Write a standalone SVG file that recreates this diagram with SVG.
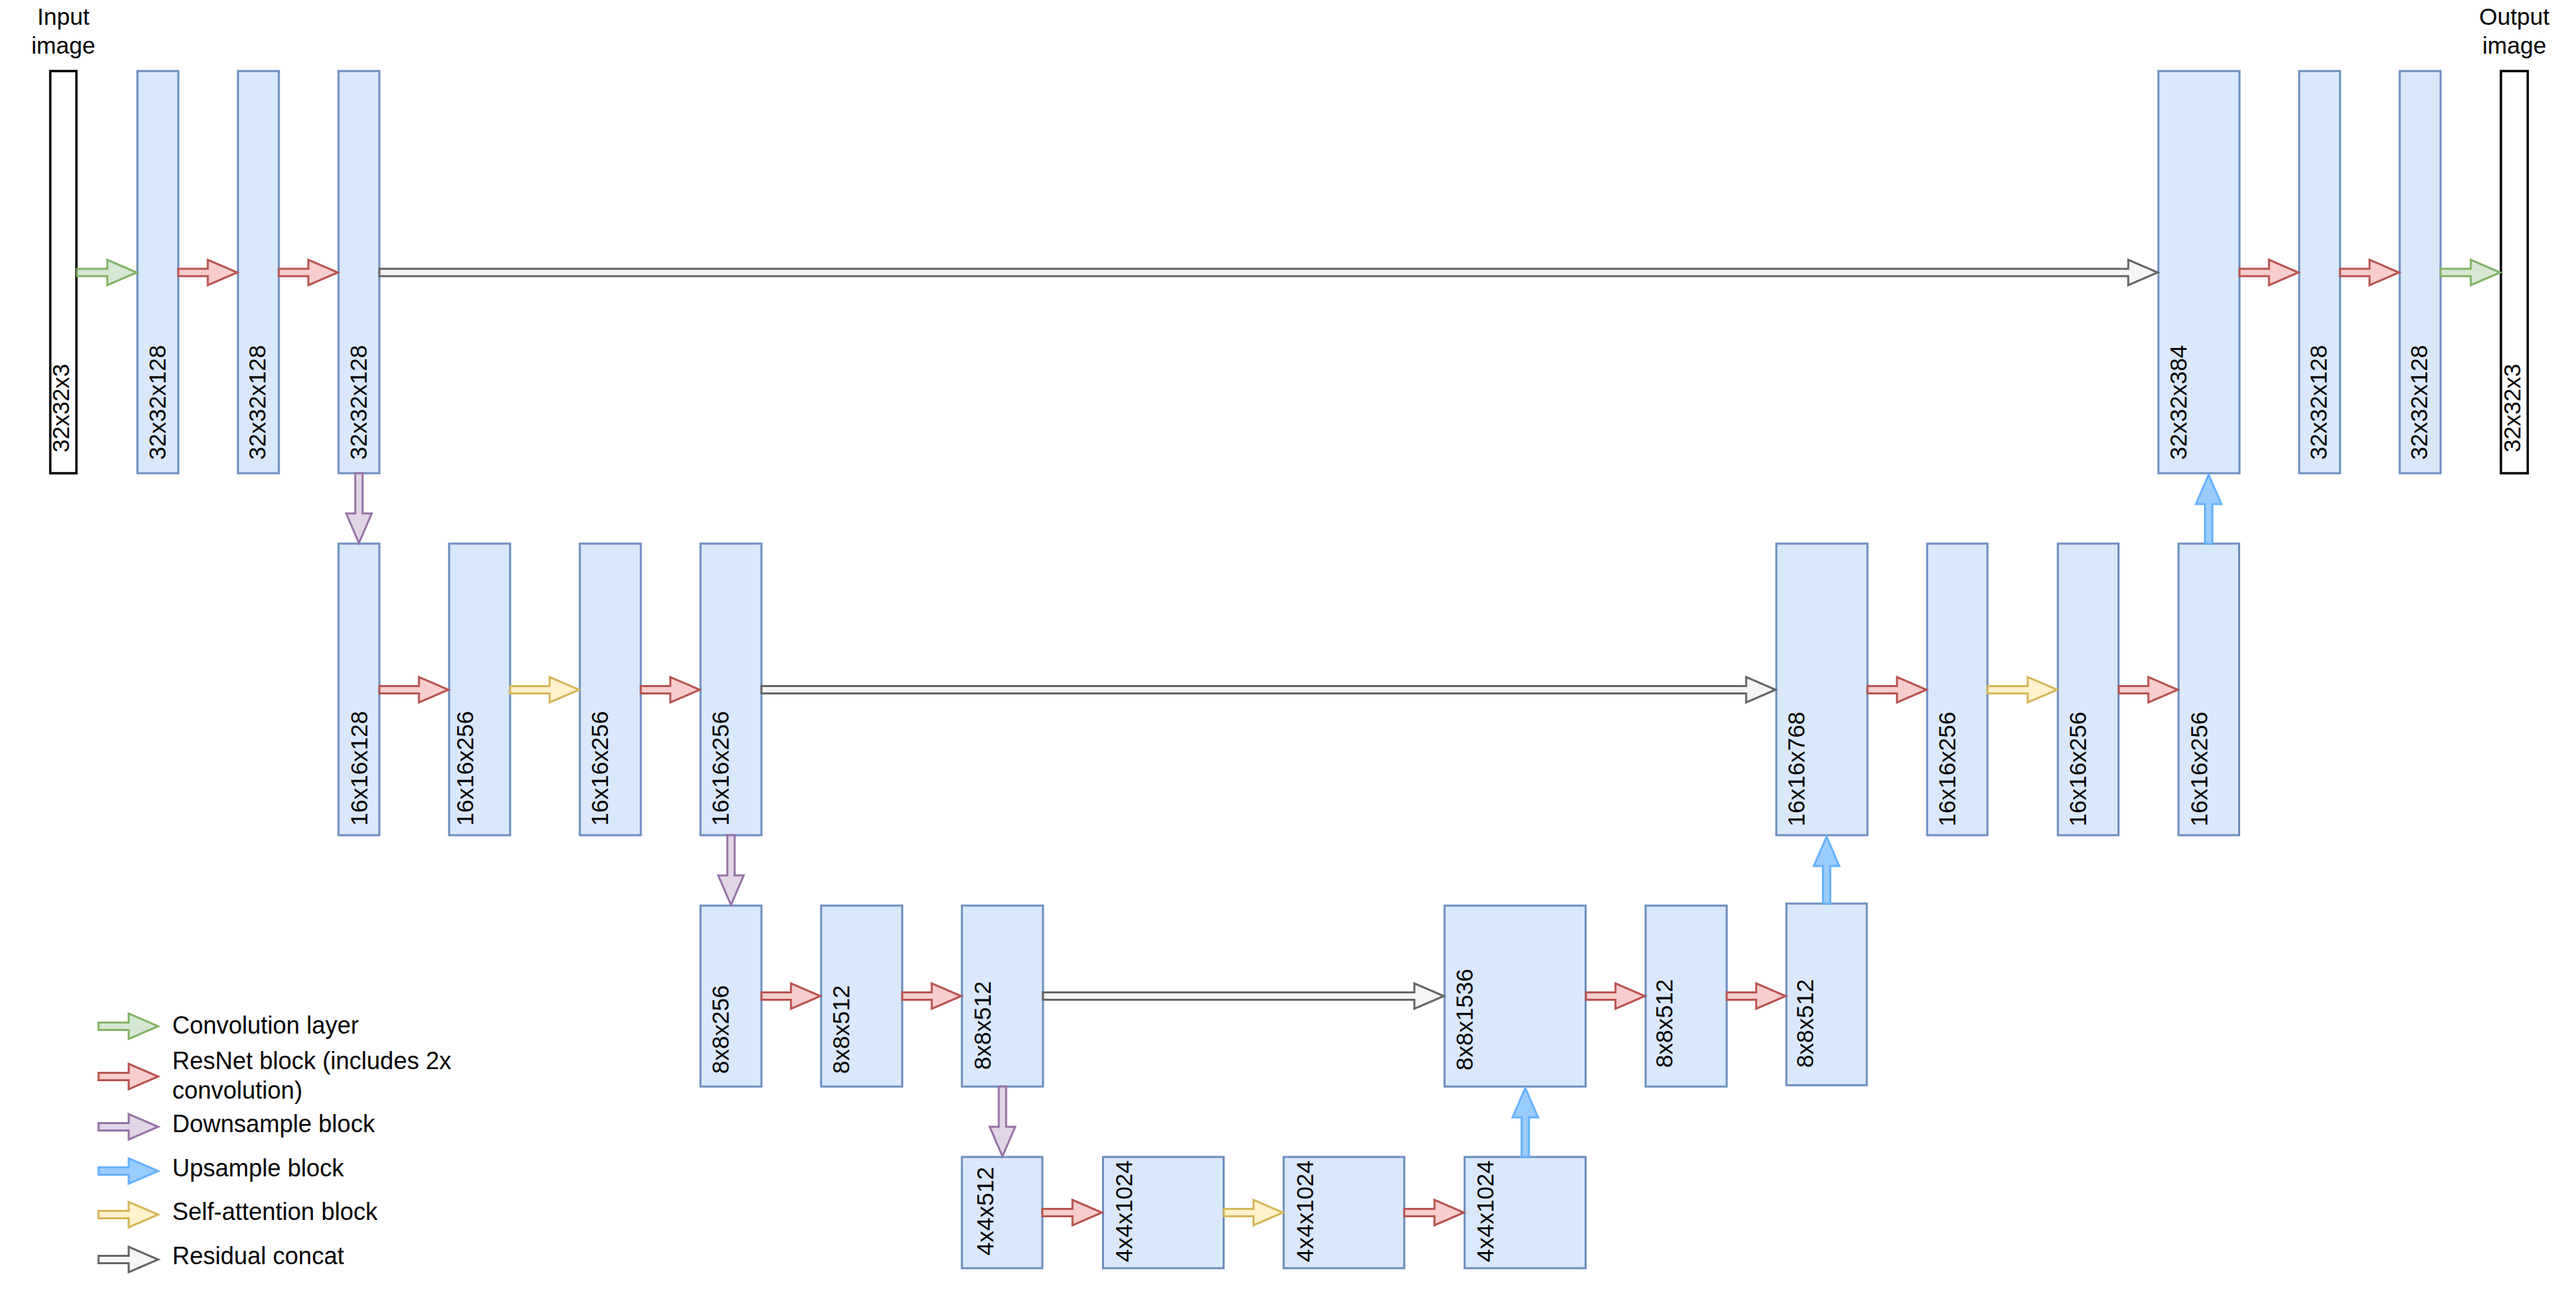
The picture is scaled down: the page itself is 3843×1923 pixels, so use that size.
<svg xmlns="http://www.w3.org/2000/svg" width="3843" height="1923" viewBox="0 0 3843 1923">
  <style>
    text { font-family: "Liberation Sans", Arial, Helvetica, sans-serif; font-size: 35px; fill: #000000; }
    .key { font-size: 36px; }
    .blk { fill: #dae8fc; stroke: #6c8ebf; stroke-width: 3; }
    .img { fill: #ffffff; stroke: #000000; stroke-width: 3.5; }
    .conv { fill: #d5e8d4; stroke: #82b366; stroke-width: 3; stroke-miterlimit: 10; }
    .res { fill: #f8cecc; stroke: #b85450; stroke-width: 3; stroke-miterlimit: 10; }
    .down { fill: #e1d5e7; stroke: #9673a6; stroke-width: 3; stroke-miterlimit: 10; }
    .up { fill: #99ccff; stroke: #66b2ff; stroke-width: 3; stroke-miterlimit: 10; }
    .attn { fill: #fff2cc; stroke: #d6b656; stroke-width: 3; stroke-miterlimit: 10; }
    .cat { fill: #f5f5f5; stroke: #666666; stroke-width: 3; stroke-miterlimit: 10; }
    .mid { text-anchor: middle; }
  </style>
  <rect width="3843" height="1923" fill="#ffffff"/>

  <!-- Encoder, 32x32 level -->
  <g id="input-image">
    <text class="mid" x="94.5" y="37">Input</text>
    <text class="mid" x="94.5" y="80">image</text>
    <rect class="img" x="75" y="106" width="39" height="600"/>
    <text transform="translate(103,675) rotate(-90)">32x32x3</text>
  </g>
  <g id="enc32-a">
    <rect class="blk" x="205" y="106" width="61" height="600"/>
    <text transform="translate(247,686) rotate(-90)">32x32x128</text>
  </g>
  <g id="enc32-b">
    <rect class="blk" x="355" y="106" width="61" height="600"/>
    <text transform="translate(396,686) rotate(-90)">32x32x128</text>
  </g>
  <g id="enc32-c">
    <rect class="blk" x="505" y="106" width="61" height="600"/>
    <text transform="translate(546.5,686) rotate(-90)">32x32x128</text>
  </g>

  <!-- Encoder, 16x16 level -->
  <g id="enc16-a">
    <rect class="blk" x="505" y="811" width="61" height="435"/>
    <text transform="translate(548,1232) rotate(-90)">16x16x128</text>
  </g>
  <g id="enc16-b">
    <rect class="blk" x="670" y="811" width="91" height="435"/>
    <text transform="translate(705.5,1232) rotate(-90)">16x16x256</text>
  </g>
  <g id="enc16-c">
    <rect class="blk" x="865" y="811" width="91" height="435"/>
    <text transform="translate(906.5,1232) rotate(-90)">16x16x256</text>
  </g>
  <g id="enc16-d">
    <rect class="blk" x="1045" y="811" width="91" height="435"/>
    <text transform="translate(1087,1232) rotate(-90)">16x16x256</text>
  </g>

  <!-- Encoder, 8x8 level -->
  <g id="enc8-a">
    <rect class="blk" x="1045" y="1351" width="91" height="270"/>
    <text transform="translate(1087,1602) rotate(-90)">8x8x256</text>
  </g>
  <g id="enc8-b">
    <rect class="blk" x="1225" y="1351" width="121" height="270"/>
    <text transform="translate(1267,1602) rotate(-90)">8x8x512</text>
  </g>
  <g id="enc8-c">
    <rect class="blk" x="1435" y="1351" width="121" height="270"/>
    <text transform="translate(1477.5,1596) rotate(-90)">8x8x512</text>
  </g>

  <!-- Bottleneck, 4x4 level -->
  <g id="mid4-a">
    <rect class="blk" x="1435" y="1726" width="120" height="166"/>
    <text transform="translate(1481.5,1873) rotate(-90)">4x4x512</text>
  </g>
  <g id="mid4-b">
    <rect class="blk" x="1645.5" y="1726" width="180" height="166"/>
    <text transform="translate(1688.5,1883) rotate(-90)">4x4x1024</text>
  </g>
  <g id="mid4-c">
    <rect class="blk" x="1915" y="1726" width="180" height="166"/>
    <text transform="translate(1959,1883) rotate(-90)">4x4x1024</text>
  </g>
  <g id="mid4-d">
    <rect class="blk" x="2185" y="1726" width="180.5" height="166"/>
    <text transform="translate(2228,1883) rotate(-90)">4x4x1024</text>
  </g>

  <!-- Decoder, 8x8 level -->
  <g id="dec8-a">
    <rect class="blk" x="2155" y="1351" width="210.5" height="270"/>
    <text transform="translate(2197,1597) rotate(-90)">8x8x1536</text>
  </g>
  <g id="dec8-b">
    <rect class="blk" x="2455" y="1351" width="121" height="270"/>
    <text transform="translate(2495,1593) rotate(-90)">8x8x512</text>
  </g>
  <g id="dec8-c">
    <rect class="blk" x="2665" y="1348" width="120" height="271"/>
    <text transform="translate(2705,1593) rotate(-90)">8x8x512</text>
  </g>

  <!-- Decoder, 16x16 level -->
  <g id="dec16-a">
    <rect class="blk" x="2650" y="811" width="136" height="435"/>
    <text transform="translate(2692,1233) rotate(-90)">16x16x768</text>
  </g>
  <g id="dec16-b">
    <rect class="blk" x="2875" y="811" width="90" height="435"/>
    <text transform="translate(2917,1233) rotate(-90)">16x16x256</text>
  </g>
  <g id="dec16-c">
    <rect class="blk" x="3070" y="811" width="90.5" height="435"/>
    <text transform="translate(3112,1233) rotate(-90)">16x16x256</text>
  </g>
  <g id="dec16-d">
    <rect class="blk" x="3250" y="811" width="90.5" height="435"/>
    <text transform="translate(3293,1233) rotate(-90)">16x16x256</text>
  </g>

  <!-- Decoder, 32x32 level -->
  <g id="dec32-a">
    <rect class="blk" x="3220" y="106" width="121" height="600"/>
    <text transform="translate(3262,686) rotate(-90)">32x32x384</text>
  </g>
  <g id="dec32-b">
    <rect class="blk" x="3430" y="106" width="61" height="600"/>
    <text transform="translate(3471,686) rotate(-90)">32x32x128</text>
  </g>
  <g id="dec32-c">
    <rect class="blk" x="3580" y="106" width="61" height="600"/>
    <text transform="translate(3621,686) rotate(-90)">32x32x128</text>
  </g>
  <g id="output-image">
    <text class="mid" x="3751" y="37">Output</text>
    <text class="mid" x="3751" y="80">image</text>
    <rect class="img" x="3731" y="106" width="40" height="600"/>
    <text transform="translate(3760,675) rotate(-90)">32x32x3</text>
  </g>

  <!-- Connectors: block arrows (shaft half-width 5.5, head half-width 19, head length 44) -->
  <g id="connectors">
    <!-- 32x32 row, y = 406.5 -->
    <polygon class="conv" points="115,401 160,401 160,387.5 204,406.5 160,425.5 160,412 115,412"/>
    <polygon class="res" points="266,401 310,401 310,387.5 354,406.5 310,425.5 310,412 266,412"/>
    <polygon class="res" points="416,401 460,401 460,387.5 504,406.5 460,425.5 460,412 416,412"/>
    <polygon class="cat" points="566,401 3175,401 3175,387.5 3219,406.5 3175,425.5 3175,412 566,412"/>
    <polygon class="res" points="3341,401 3385,401 3385,387.5 3429,406.5 3385,425.5 3385,412 3341,412"/>
    <polygon class="res" points="3491,401 3535,401 3535,387.5 3579,406.5 3535,425.5 3535,412 3491,412"/>
    <polygon class="conv" points="3641,401 3686,401 3686,387.5 3730,406.5 3686,425.5 3686,412 3641,412"/>

    <!-- 16x16 row, y = 1029 -->
    <polygon class="res" points="566,1023.5 625,1023.5 625,1010 669,1029 625,1048 625,1034.5 566,1034.5"/>
    <polygon class="attn" points="761,1023.5 820,1023.5 820,1010 864,1029 820,1048 820,1034.5 761,1034.5"/>
    <polygon class="res" points="956,1023.5 1000,1023.5 1000,1010 1044,1029 1000,1048 1000,1034.5 956,1034.5"/>
    <polygon class="cat" points="1136,1023.5 2605,1023.5 2605,1010 2649,1029 2605,1048 2605,1034.5 1136,1034.5"/>
    <polygon class="res" points="2786,1023.5 2830,1023.5 2830,1010 2874,1029 2830,1048 2830,1034.5 2786,1034.5"/>
    <polygon class="attn" points="2965,1023.5 3025,1023.5 3025,1010 3069,1029 3025,1048 3025,1034.5 2965,1034.5"/>
    <polygon class="res" points="3161,1023.5 3205,1023.5 3205,1010 3249,1029 3205,1048 3205,1034.5 3161,1034.5"/>

    <!-- 8x8 row, y = 1486 -->
    <polygon class="res" points="1136,1480.5 1180,1480.5 1180,1467 1224,1486 1180,1505 1180,1491.5 1136,1491.5"/>
    <polygon class="res" points="1346,1480.5 1390,1480.5 1390,1467 1434,1486 1390,1505 1390,1491.5 1346,1491.5"/>
    <polygon class="cat" points="1556,1480.5 2110,1480.5 2110,1467 2154,1486 2110,1505 2110,1491.5 1556,1491.5"/>
    <polygon class="res" points="2366,1480.5 2410,1480.5 2410,1467 2454,1486 2410,1505 2410,1491.5 2366,1491.5"/>
    <polygon class="res" points="2576,1480.5 2620,1480.5 2620,1467 2664,1486 2620,1505 2620,1491.5 2576,1491.5"/>

    <!-- 4x4 row, y = 1809 -->
    <polygon class="res" points="1555,1803.5 1600,1803.5 1600,1790 1644,1809 1600,1828 1600,1814.5 1555,1814.5"/>
    <polygon class="attn" points="1826,1803.5 1870,1803.5 1870,1790 1914,1809 1870,1828 1870,1814.5 1826,1814.5"/>
    <polygon class="res" points="2095,1803.5 2140,1803.5 2140,1790 2184,1809 2140,1828 2140,1814.5 2095,1814.5"/>

    <!-- Downsampling -->
    <polygon class="down" points="530,706 541,706 541,766 554.5,766 535.5,810 516.5,766 530,766"/>
    <polygon class="down" points="1085,1246 1096,1246 1096,1306 1109.5,1306 1090.5,1350 1071.5,1306 1085,1306"/>
    <polygon class="down" points="1490,1621 1501,1621 1501,1681 1514.5,1681 1495.5,1725 1476.5,1681 1490,1681"/>

    <!-- Upsampling -->
    <polygon class="up" points="2270,1726 2281,1726 2281,1667 2294.5,1667 2275.5,1623 2256.5,1667 2270,1667"/>
    <polygon class="up" points="2719.5,1348 2730.5,1348 2730.5,1292 2744,1292 2725,1248 2706,1292 2719.5,1292"/>
    <polygon class="up" points="3289.5,811 3300.5,811 3300.5,752 3314,752 3295,708 3276,752 3289.5,752"/>
  </g>

  <!-- Legend -->
  <g id="legend">
    <polygon class="conv" points="147,1525.5 192,1525.5 192,1512 236,1531 192,1550 192,1536.5 147,1536.5"/>
    <text class="key" x="257" y="1542">Convolution layer</text>
    <polygon class="res" points="147,1600.5 192,1600.5 192,1587 236,1606 192,1625 192,1611.5 147,1611.5"/>
    <text class="key" x="257" y="1595">ResNet block (includes 2x</text>
    <text class="key" x="257" y="1639">convolution)</text>
    <polygon class="down" points="147,1675.5 192,1675.5 192,1662 236,1681 192,1700 192,1686.5 147,1686.5"/>
    <text class="key" x="257" y="1689">Downsample block</text>
    <polygon class="up" points="147,1741.5 192,1741.5 192,1728 236,1747 192,1766 192,1752.5 147,1752.5"/>
    <text class="key" x="257" y="1755">Upsample block</text>
    <polygon class="attn" points="147,1806.5 192,1806.5 192,1793 236,1812 192,1831 192,1817.5 147,1817.5"/>
    <text class="key" x="257" y="1820">Self-attention block</text>
    <polygon class="cat" points="147,1873.5 192,1873.5 192,1860 236,1879 192,1898 192,1884.5 147,1884.5"/>
    <text class="key" x="257" y="1886">Residual concat</text>
  </g>
</svg>
